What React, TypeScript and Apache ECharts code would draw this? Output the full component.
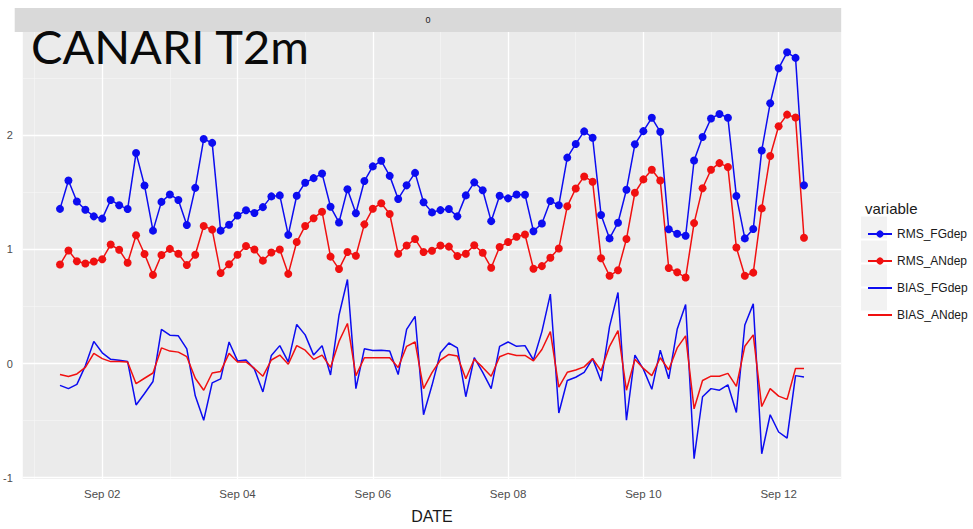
import React, { useEffect, useRef } from "react";
import * as echarts from "echarts";

// time in days since Sep 01 00:00, one value every 3 hours from Sep 01 09:00
const firstDay = 0.375;
const stepDay = 0.125;

const rmsFG = [
  1.356, 1.605, 1.42, 1.348, 1.29, 1.27, 1.434, 1.388, 1.354, 1.845,
  1.56, 1.165, 1.417, 1.482, 1.434, 1.214, 1.54, 1.968, 1.934, 1.165,
  1.217, 1.297, 1.343, 1.32, 1.371, 1.465, 1.474, 1.128, 1.471, 1.585,
  1.625, 1.665, 1.374, 1.237, 1.528, 1.317, 1.6, 1.728, 1.777, 1.645,
  1.443, 1.562, 1.671, 1.414, 1.325, 1.345, 1.354, 1.29, 1.474, 1.588,
  1.519, 1.248, 1.471, 1.448, 1.482, 1.48, 1.16, 1.228, 1.425, 1.388,
  1.805, 1.925, 2.035, 1.979, 1.302, 1.097, 1.234, 1.523, 1.922, 2.037,
  2.154, 2.031, 1.177, 1.137, 1.12, 1.78, 1.985, 2.148, 2.188, 2.154,
  1.468, 1.097, 1.18, 1.868, 2.282, 2.588, 2.728, 2.679, 1.562,
];

const rmsAN = [
  0.868, 0.991, 0.897, 0.877, 0.894, 0.914, 1.043, 0.997, 0.883, 1.125,
  0.96, 0.777, 0.951, 1.005, 0.962, 0.863, 0.954, 1.206, 1.174, 0.794,
  0.871, 0.954, 1.031, 1.0, 0.902, 0.974, 1.0, 0.786, 1.065, 1.206,
  1.274, 1.331, 0.937, 0.828, 0.977, 0.945, 1.22, 1.357, 1.405, 1.311,
  0.962, 1.034, 1.091, 0.977, 0.988, 1.034, 1.025, 0.943, 0.962, 1.037,
  0.971, 0.84, 1.022, 1.065, 1.111, 1.131, 0.831, 0.854, 0.928, 1.008,
  1.378, 1.534, 1.64, 1.594, 0.923, 0.769, 0.817, 1.091, 1.497, 1.614,
  1.699, 1.605, 0.837, 0.8, 0.754, 1.231, 1.537, 1.699, 1.757, 1.722,
  1.017, 0.769, 0.797, 1.36, 1.819, 2.08, 2.182, 2.157, 1.103,
];

const biasFG = [
  -0.191, -0.22, -0.183, -0.02, 0.194, 0.094, 0.037, 0.029, 0.017, -0.363,
  -0.263, -0.157, 0.3, 0.249, 0.243, 0.129, -0.283, -0.497, -0.169, -0.134,
  0.189, 0.023, 0.031, -0.049, -0.249, 0.071, 0.157, 0.014, 0.343, 0.251,
  0.074, 0.157, -0.1, 0.423, 0.737, -0.22, 0.129, 0.114, 0.117, 0.109,
  -0.097, 0.3, 0.414, -0.449, -0.191, 0.094, 0.18, 0.137, -0.291, 0.051,
  -0.077, -0.22, 0.151, 0.189, 0.151, 0.157, 0.031, 0.28, 0.609, -0.434,
  -0.149, -0.12, -0.077, 0.043, -0.154, 0.323, 0.623, -0.497, 0.074, -0.049,
  -0.226, 0.117, -0.134, 0.3, 0.517, -0.834, -0.291, -0.22, -0.234, -0.186,
  -0.429, 0.337, 0.523, -0.791, -0.449, -0.6, -0.654, -0.106, -0.117,
];

const biasAN = [
  -0.097, -0.114, -0.091, -0.034, 0.089, 0.043, 0.017, 0.017, 0.014, -0.177,
  -0.129, -0.083, 0.137, 0.109, 0.1, 0.06, -0.129, -0.234, -0.083, -0.069,
  0.089, 0.014, 0.014, -0.043, -0.111, 0.031, 0.074, -0.006, 0.157, 0.117,
  0.037, 0.074, -0.034, 0.194, 0.351, -0.106, 0.051, 0.051, 0.051, 0.051,
  -0.034, 0.151, 0.189, -0.22, -0.08, 0.031, 0.08, 0.066, -0.134, 0.037,
  -0.034, -0.111, 0.06, 0.089, 0.071, 0.071, 0.023, 0.123, 0.28, -0.206,
  -0.077, -0.057, -0.029, 0.043, -0.063, 0.151, 0.289, -0.234, 0.037, -0.043,
  -0.106, 0.051, -0.054, 0.137, 0.243, -0.397, -0.149, -0.111, -0.111, -0.086,
  -0.2, 0.151, 0.251, -0.377, -0.22, -0.286, -0.314, -0.043, -0.043,
];

const seriesNames = ["RMS_FGdep", "RMS_ANdep", "BIAS_FGdep", "BIAS_ANdep"];
const xTickDays = [1, 3, 5, 7, 9, 11];
const xMinorDays = [0, 2, 4, 6, 8, 10, 12];
const yTicks = [-1, 0, 1, 2];
const yMinor = [-0.5, 0.5, 1.5, 2.5];

const BLUE = "#0c0cf0";
const RED = "#f01010";

const LEGEND_TOP = 223;
const LEGEND_ROW = 24;

export default function App() {
  const ref = useRef<HTMLDivElement>(null);
  useEffect(() => {
    if (!ref.current) return;
    const chart = echarts.init(ref.current, null, { renderer: "svg" });
    const times = rmsFG.map((_, i) => firstDay + i * stepDay);
    const pair = (vals: number[]) => vals.map((v, i) => [times[i], v]);
    const allVals = [...rmsFG, ...rmsAN, ...biasFG, ...biasAN];
    const lo = Math.min(...allVals);
    const hi = Math.max(...allVals);
    const ex = (hi - lo) * 0.05;
    const tLo = times[0];
    const tHi = times[times.length - 1];
    const tex = (tHi - tLo) * 0.05;

    const grid = (width: number, color: string) => ({
      silent: true,
      z: 1,
      symbol: ["none", "none"],
      label: { show: false },
      emphasis: { disabled: true },
      lineStyle: { color, width, type: "solid" },
    });

    const keyBoxes = seriesNames.map((_, i) => ({
      type: "rect",
      shape: { x: 861, y: LEGEND_TOP + 4.5 + i * LEGEND_ROW - 11, width: 26, height: 22 },
      style: { fill: "#f2f2f2" },
      silent: true,
      z: -1,
    }));

    const option: any = {
      animation: false,
      backgroundColor: "#ffffff",
      grid: {
        left: 14.7,
        right: 131.8,
        top: 32,
        bottom: 40,
        show: true,
        backgroundColor: "#ebebeb",
        borderWidth: 0,
        z: 0,
      },
      xAxis: {
        type: "value",
        min: tLo - tex,
        max: tHi + tex,
        name: "DATE",
        nameLocation: "middle",
        nameGap: 29,
        nameTextStyle: { fontFamily: "Liberation Sans", fontSize: 16, color: "#1a1a1a" },
        axisLine: { show: false },
        axisTick: { show: true, customValues: xTickDays, length: 3, lineStyle: { color: "#444", width: 1 } },
        axisLabel: {
          customValues: xTickDays,
          margin: 9,
          fontFamily: "Liberation Sans",
          fontSize: 11.5,
          color: "#4d4d4d",
          formatter: (v: number) => "Sep " + String(Math.round(v) + 1).padStart(2, "0"),
        },
        splitLine: { show: false },
      },
      yAxis: {
        type: "value",
        min: lo - ex,
        max: hi + ex,
        axisLine: { show: false },
        axisTick: { show: true, customValues: yTicks, length: 3, lineStyle: { color: "#444", width: 1 } },
        axisLabel: {
          customValues: yTicks,
          margin: 10,
          fontFamily: "Liberation Sans",
          fontSize: 11,
          color: "#4d4d4d",
        },
        splitLine: { show: false },
      },
      legend: {
        orient: "vertical",
        left: 862,
        top: LEGEND_TOP,
        itemWidth: 24,
        itemHeight: 9,
        itemGap: LEGEND_ROW - 9,
        data: [
          { name: seriesNames[0] },
          { name: seriesNames[1] },
          { name: seriesNames[2], itemStyle: { opacity: 0 } },
          { name: seriesNames[3], itemStyle: { opacity: 0 } },
        ],
        textStyle: { fontFamily: "Liberation Sans", fontSize: 12, color: "#1a1a1a" },
        selectedMode: false,
      },
      graphic: [
        ...keyBoxes,
        {
          type: "rect",
          shape: { x: 14.7, y: 8, width: 826.5, height: 24 },
          style: { fill: "#d9d9d9" },
          silent: true,
        },
        {
          type: "text",
          style: {
            x: 428,
            y: 20,
            text: "0",
            align: "center",
            verticalAlign: "middle",
            fontFamily: "Liberation Sans",
            fontSize: 9,
            fill: "#1a1a1a",
          },
          silent: true,
        },
        {
          type: "text",
          z: 100,
          style: {
            x: 31,
            y: 46,
            text: "CANARI T2m",
            verticalAlign: "middle",
            fontFamily: "Lato",
            fontSize: 47,
            fill: "#0a0a0a",
          },
          silent: true,
        },
        {
          type: "text",
          style: {
            x: 865,
            y: 208,
            text: "variable",
            verticalAlign: "middle",
            fontFamily: "Liberation Sans",
            fontSize: 15,
            fill: "#1a1a1a",
          },
          silent: true,
        },
      ],
      series: [
        {
          name: "gridMinor",
          type: "line",
          data: [],
          z: 1,
          markLine: {
            ...grid(0.6, "#f7f7f7"),
            data: [
              ...xMinorDays.map((d) => ({ xAxis: d })),
              ...yMinor.map((v) => ({ yAxis: v })),
            ],
          },
        },
        {
          name: "gridMajor",
          type: "line",
          data: [],
          z: 1,
          markLine: {
            ...grid(1.3, "#ffffff"),
            data: [
              ...xTickDays.map((d) => ({ xAxis: d })),
              ...yTicks.map((v) => ({ yAxis: v })),
            ],
          },
        },
        {
          name: seriesNames[0],
          type: "line",
          data: pair(rmsFG),
          symbol: "circle",
          symbolSize: 8,
          showSymbol: true,
          color: BLUE,
          lineStyle: { width: 1.5, color: BLUE },
          itemStyle: { color: BLUE },
          z: 3,
        },
        {
          name: seriesNames[1],
          type: "line",
          data: pair(rmsAN),
          symbol: "circle",
          symbolSize: 8,
          showSymbol: true,
          color: RED,
          lineStyle: { width: 1.5, color: RED },
          itemStyle: { color: RED },
          z: 3,
        },
        {
          name: seriesNames[2],
          type: "line",
          data: pair(biasFG),
          symbol: "none",
          color: BLUE,
          lineStyle: { width: 1.5, color: BLUE },
          itemStyle: { color: BLUE },
          z: 3,
        },
        {
          name: seriesNames[3],
          type: "line",
          data: pair(biasAN),
          symbol: "none",
          color: RED,
          lineStyle: { width: 1.5, color: RED },
          itemStyle: { color: RED },
          z: 3,
        },
      ],
    };
    chart.setOption(option);
    return () => chart.dispose();
  }, []);
  return <div ref={ref} style={{ width: 973, height: 529, position: "absolute", left: 0, top: 0 }} />;
}
